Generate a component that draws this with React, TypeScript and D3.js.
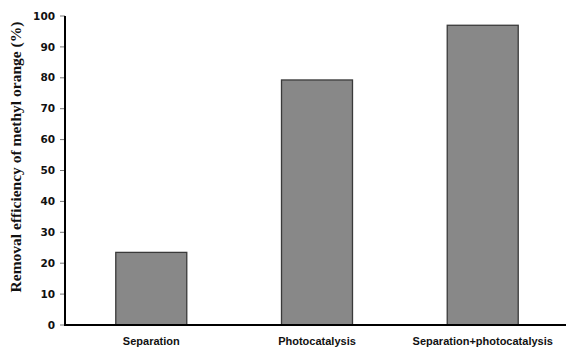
import React from "react";
import * as d3 from "d3";

const categories = ["Separation", "Photocatalysis", "Separation+photocatalysis"];
const values = [23.5, 79.3, 97.0];
const yTicks = [0, 10, 20, 30, 40, 50, 60, 70, 80, 90, 100];
const yLabel = "Removal efficiency of methyl orange (%)";

export default function App() {
  const W = 566, H = 350;
  const x0 = 65, xEnd = 566, yTop = 16, yBot = 325;
  const x = d3.scaleBand<string>().domain(categories).range([68, 566]).paddingInner(0.575).paddingOuter(0.29);
  const y = d3.scaleLinear().domain([0, 100]).range([yBot, yTop]);
  const bw = 71;
  return (
    <div style={{ position: "absolute", left: 0, top: 0 }}>
      <svg width={W} height={H} style={{ display: "block", background: "#fff" }}>
        {categories.map((c, i) => {
          const cx = (x(c) as number) + x.bandwidth() / 2;
          return (
            <rect key={c} x={cx - bw / 2} y={y(values[i])} width={bw} height={yBot - y(values[i])}
              fill="#888888" stroke="#3a3a3a" strokeWidth={1.3} />
          );
        })}
        {yTicks.map((t) => (
          <g key={t}>
            <line x1={x0 - 5} x2={x0} y1={y(t)} y2={y(t)} stroke="#777" strokeWidth={1} />
            <text x={x0 - 10} y={y(t)} dy="0.35em" textAnchor="end" fontFamily="'DejaVu Sans', sans-serif"
              fontWeight="bold" fontSize={10.5} fill="#111">{t}</text>
          </g>
        ))}
        <line x1={x0} x2={x0} y1={yTop} y2={yBot + 1} stroke="#000" strokeWidth={2} />
        <line x1={x0 - 1} x2={xEnd} y1={yBot} y2={yBot} stroke="#000" strokeWidth={2} />
        {categories.map((c) => {
          const cx = (x(c) as number) + x.bandwidth() / 2;
          return (
            <text key={c} x={cx} y={345} textAnchor="middle" fontFamily="'Liberation Sans', Arial, sans-serif"
              fontWeight="bold" fontSize={11} fill="#111">{c}</text>
          );
        })}
        <text transform={`translate(21,157) rotate(-90)`} textAnchor="middle"
          fontFamily="'Liberation Serif', 'Times New Roman', serif" fontWeight="bold" fontSize={15.5} fill="#111">
          {yLabel}
        </text>
      </svg>
    </div>
  );
}
